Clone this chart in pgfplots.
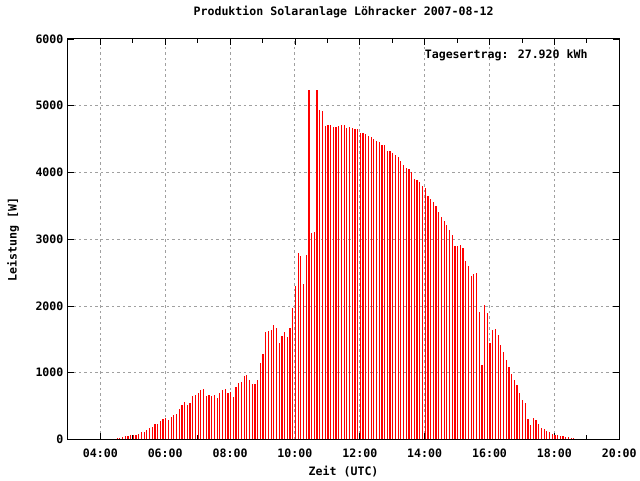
\documentclass[border=0pt]{standalone}
\usepackage{fontspec}
\setmainfont{DejaVu Sans Mono}
\usepackage{pgfplots}
\usepackage{pgfplotstable}
\pgfplotsset{compat=1.18}
\definecolor{gridgray}{RGB}{160,160,160}
\pgfplotstableread{
t p
271 15
276 15
281 30
286 45
291 45
296 60
301 60
306 60
311 75
316 105
321 105
326 135
331 165
336 180
341 225
346 225
351 270
356 300
361 315
366 285
371 330
376 360
381 375
386 450
391 509
396 554
401 509
406 539
411 658
416 673
421 703
426 748
431 763
436 658
441 673
446 658
451 673
456 628
461 703
466 748
471 763
476 703
481 718
486 643
491 793
496 853
501 868
506 958
511 973
516 898
521 838
526 838
531 898
536 1152
541 1287
546 1616
551 1631
556 1646
561 1721
566 1676
571 1452
576 1556
581 1616
586 1541
591 1676
596 1975
601 2304
606 2798
611 2753
616 2334
621 2768
626 5237
631 3098
636 3113
641 5237
646 4938
651 4923
656 4698
661 4713
666 4713
671 4683
676 4683
681 4698
686 4713
691 4713
696 4668
701 4683
706 4668
711 4654
716 4654
721 4594
726 4594
731 4579
736 4549
741 4534
746 4504
751 4474
756 4459
761 4414
766 4414
771 4324
776 4324
781 4294
786 4264
791 4234
796 4175
801 4115
806 4070
811 4055
816 4010
821 3906
826 3891
831 3861
836 3801
841 3771
846 3651
851 3606
856 3561
861 3502
866 3412
871 3337
876 3277
881 3217
886 3142
891 3068
896 2903
901 2903
906 2918
911 2873
916 2679
921 2604
926 2454
931 2484
936 2499
941 1915
946 1122
951 2020
956 1900
961 1451
966 1646
971 1661
976 1571
981 1422
986 1317
991 1197
996 1092
1001 988
1006 898
1011 823
1016 703
1021 584
1026 539
1031 314
1036 224
1041 329
1046 299
1051 239
1056 165
1061 150
1066 120
1071 105
1076 75
1081 60
1086 60
1091 45
1096 45
1101 30
1106 30
1111 15
1116 15
}\datatable
\begin{document}
\begin{tikzpicture}[font=\fontsize{11.6bp}{14bp}\selectfont\bfseries]
\begin{axis}[
  name=ax,
  scale only axis, width=552bp, height=401bp,
  xmin=180, xmax=1200, ymin=0, ymax=6000,
  xtick={240,360,480,600,720,840,960,1080,1200},
  xticklabels={04:00,06:00,08:00,10:00,12:00,14:00,16:00,18:00,20:00},
  minor x tick num=1,
  ytick={0,1000,2000,3000,4000,5000,6000},
  /pgf/number format/assume math mode=true,
  /pgf/number format/1000 sep={},
  grid=major,
  major grid style={dash pattern=on 2.5bp off 3bp, gridgray, line width=0.9bp},
  tick align=inside,
  major tick length=6bp, minor tick length=4bp,
  tick style={black, line width=0.8bp},
  axis line style={black, line width=1bp},
  xticklabel style={yshift=-5.5bp},
  yticklabel style={xshift=-1bp},
  xlabel={Zeit (UTC)},
  xlabel style={at={(axis description cs:0.5,-0.0798)}, anchor=center},
  ylabel={Leistung [W]},
  ylabel style={at={(axis description cs:-0.0996,0.5)}, anchor=center, rotate=0},
  title={Produktion Solaranlage Löhracker 2007-08-12},
  title style={at={(axis description cs:0.5,1.0524)}, anchor=center},
]
\addplot[ycomb, no marks, red, line width=1.2bp] table[x=t, y=p] {\datatable};
\node[anchor=west, inner sep=0pt] at (axis description cs:0.647,0.958) {Tagesertrag: 27.920 kWh};
\end{axis}
\path ([shift={(-68bp,-40bp)}]ax.south west) rectangle ++(640bp,480bp);
\end{tikzpicture}
\end{document}
